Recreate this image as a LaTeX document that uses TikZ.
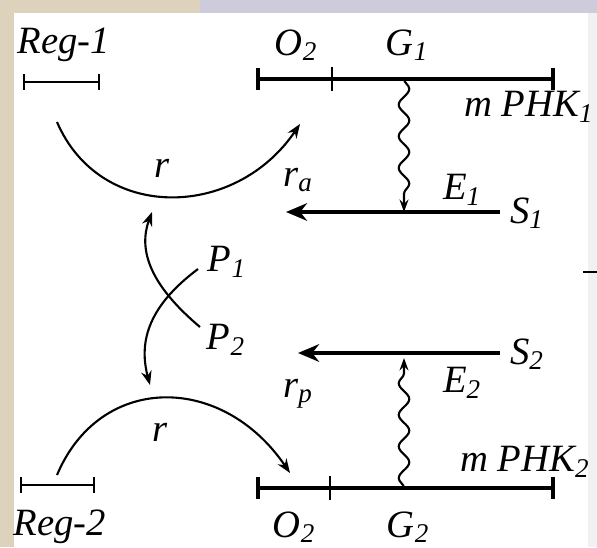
\documentclass[tikz,border=0pt]{standalone}
\usepackage{fontspec}
\setmainfont{Liberation Serif}
\newfontfamily\labfont{Liberation Serif}
\usepackage{tikz}
\usetikzlibrary{positioning, arrows.meta, decorations.pathmorphing}
\definecolor{paperbeige}{RGB}{221,211,188}
\definecolor{paperlilac}{RGB}{206,204,220}
\definecolor{papergray}{RGB}{241,241,244}

\begin{document}
\begin{tikzpicture}[
    x=0.02cm, y=-0.02cm,
    lbl/.style={font=\labfont\fontsize{22}{24}\selectfont\itshape, inner sep=1pt},
    gene/.style={{Bar[width=12pt]}-{Bar[width=12pt]}, line width=2.2pt},
    reg/.style={{Bar[width=9pt]}-{Bar[width=9pt]}, line width=1.1pt},
    arc/.style={-{Stealth[length=8pt, width=6pt]}, line width=1.2pt},
    flow/.style={-{Stealth[length=12pt, width=10pt]}, line width=2.6pt},
    wave/.style={-{Stealth[length=7pt, width=5pt]}, line width=1.2pt,
        decorate, decoration={snake, amplitude=3pt, segment length=18pt, post length=7pt}}
]
    % paper and margins
    \fill[white] (0,0) rectangle (597,547);
    \fill[paperbeige] (0,0) rectangle (14,547);
    \fill[paperbeige] (0,0) rectangle (200,13);
    \fill[paperlilac] (200,0) rectangle (597,13);
    \fill[papergray] (588,13) rectangle (597,547);
    \useasboundingbox (0,0) rectangle (597,547);

    % operon 1 (top)
    \coordinate (op1L) at (256,79);
    \coordinate (op1M) at (332,79);
    \coordinate (op1W) at (404,79);
    \coordinate (op1R) at (555,79);
    \draw[gene] (op1L) -- (op1R);
    \draw[line width=1.2pt] ([yshift=-7pt]op1M) -- ([yshift=7pt]op1M);
    \node[lbl] (o1) at (296,45) {O\textsubscript{2}};
    \node[lbl] (g1) at (407,45) {G\textsubscript{1}};
    \node[lbl, anchor=west] (phk1) at (462,107) {m PHK\textsubscript{1}};

    % reg 1
    \coordinate (reg1L) at (23,82);
    \coordinate (reg1R) at (100,82);
    \draw[reg] (reg1L) -- (reg1R);
    \node[lbl] (reg1) at (64,45) {Reg-1};

    % upper pathway
    \coordinate (s1end) at (500,212);
    \coordinate (ra) at (286,212);
    \coordinate (e1hit) at (404,212);
    \draw[flow] (s1end) -- (ra);
    \draw[wave] (op1W) -- (e1hit);
    \node[lbl, anchor=west] (s1) at (508,213) {S\textsubscript{1}};
    \node[lbl] (e1) at (462,190) {E\textsubscript{1}};
    \node[lbl] (ralbl) at (298,180) {r\textsubscript{a}};

    % upper repressor arc
    \coordinate (arc1a) at (57,122);
    \coordinate (arc1b) at (300,124);
    \draw[arc] (arc1a) .. controls (100,222) and (235,220) .. (arc1b);
    \node[lbl] (r1) at (162,168) {r};

    % crossing signals
    \coordinate (p1end) at (198,269);
    \coordinate (p2end) at (200,327);
    \coordinate (uptip) at (152,212);
    \coordinate (downtip) at (150,385);
    \draw[arc] (p2end) .. controls (150,285) and (138,250) .. (uptip);
    \draw[arc] (p1end) .. controls (150,305) and (138,340) .. (downtip);
    \node[lbl] (p1) at (227,262) {P\textsubscript{1}};
    \node[lbl] (p2) at (226,340) {P\textsubscript{2}};

    % lower pathway
    \coordinate (s2end) at (500,353);
    \coordinate (rp) at (298,353);
    \coordinate (e2hit) at (404,358);
    \draw[flow] (s2end) -- (rp);
    \node[lbl, anchor=west] (s2) at (508,354) {S\textsubscript{2}};
    \node[lbl] (e2) at (462,383) {E\textsubscript{2}};
    \node[lbl] (rplbl) at (298,394) {r\textsubscript{p}};

    % operon 2 (bottom)
    \coordinate (op2L) at (256,488);
    \coordinate (op2M) at (330,488);
    \coordinate (op2W) at (404,488);
    \coordinate (op2R) at (555,488);
    \draw[gene] (op2L) -- (op2R);
    \draw[line width=1.2pt] ([yshift=-7pt]op2M) -- ([yshift=7pt]op2M);
    \draw[wave] (op2W) -- (e2hit);
    \node[lbl] (o2) at (294,527) {O\textsubscript{2}};
    \node[lbl] (g2) at (408,527) {G\textsubscript{2}};
    \node[lbl, anchor=west] (phk2) at (458,462) {m PHK\textsubscript{2}};

    % reg 2
    \coordinate (reg2L) at (20,485);
    \coordinate (reg2R) at (95,485);
    \draw[reg] (reg2L) -- (reg2R);
    \node[lbl] (reg2) at (60,527) {Reg-2};

    % lower repressor arc
    \coordinate (arc2a) at (57,475);
    \coordinate (arc2b) at (290,473);
    \draw[arc] (arc2a) .. controls (100,373) and (222,373) .. (arc2b);
    \node[lbl] (r2) at (160,432) {r};

    % stray mark at the right edge
    \coordinate (markL) at (583,272);
    \coordinate (markR) at (597,272);
    \draw[line width=1.4pt] (markL) -- (markR);
\end{tikzpicture}
\end{document}
